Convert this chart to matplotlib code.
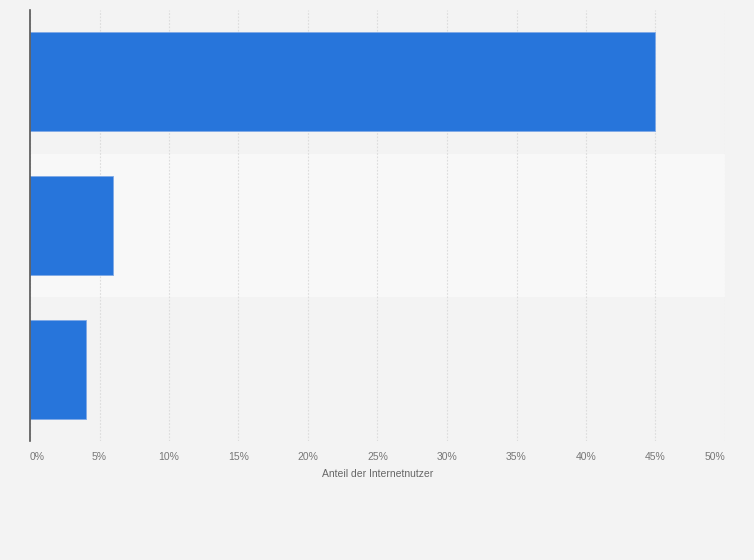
"""Horizontal bar chart: Anteil der Internetnutzer."""

import matplotlib.pyplot as plt
from matplotlib.ticker import FuncFormatter

categories = ["A", "B", "C"]
shares = [45, 6, 4]
xticks = [0, 5, 10, 15, 20, 25, 30, 35, 40, 45, 50]
xlabel = "Anteil der Internetnutzer"

BG = "#f3f3f3"
BAND = "#f8f8f8"
BAR = "#2775db"

plt.rcParams["font.family"] = ["Liberation Sans", "DejaVu Sans"]

fig = plt.figure(figsize=(7.54, 5.6), dpi=100, facecolor=BG)
ax = fig.add_axes([30 / 754, 119 / 560, 695 / 754, 431 / 560])
ax.set_facecolor(BG)

ypos = list(range(len(categories)))
# lighter band behind every second row
for i in ypos:
    if i % 2 == 1:
        ax.axhspan(i - 0.5, i + 0.5, color=BAND, zorder=0, lw=0)

ax.barh(ypos, shares, height=0.69, color=BAR, edgecolor="#7fa9e6",
        linewidth=0.6, zorder=3)

ax.set_xlim(0, 50)
ax.set_ylim(len(categories) - 0.5, -0.5)
ax.set_xticks(xticks)
ax.xaxis.set_major_formatter(FuncFormatter(lambda v, _: f"{v:g}%"))
ax.tick_params(axis="x", length=0, labelsize=7.5, labelcolor="#777777", pad=8)
ax.set_yticks([])
ax.grid(axis="x", color="#dcdcdc", linestyle=(0, (1.5, 1.5)), linewidth=0.8, zorder=1)

labels = ax.get_xticklabels()
labels[0].set_horizontalalignment("left")
labels[-1].set_horizontalalignment("right")

for side in ["top", "right", "bottom"]:
    ax.spines[side].set_visible(False)
ax.spines["left"].set_color("#555555")
ax.spines["left"].set_linewidth(1.2)
ax.spines["left"].set_zorder(4)

ax.set_xlabel(xlabel, fontsize=7.5, color="#666666", labelpad=5)

fig.savefig("out.png", dpi=100, facecolor=BG)
